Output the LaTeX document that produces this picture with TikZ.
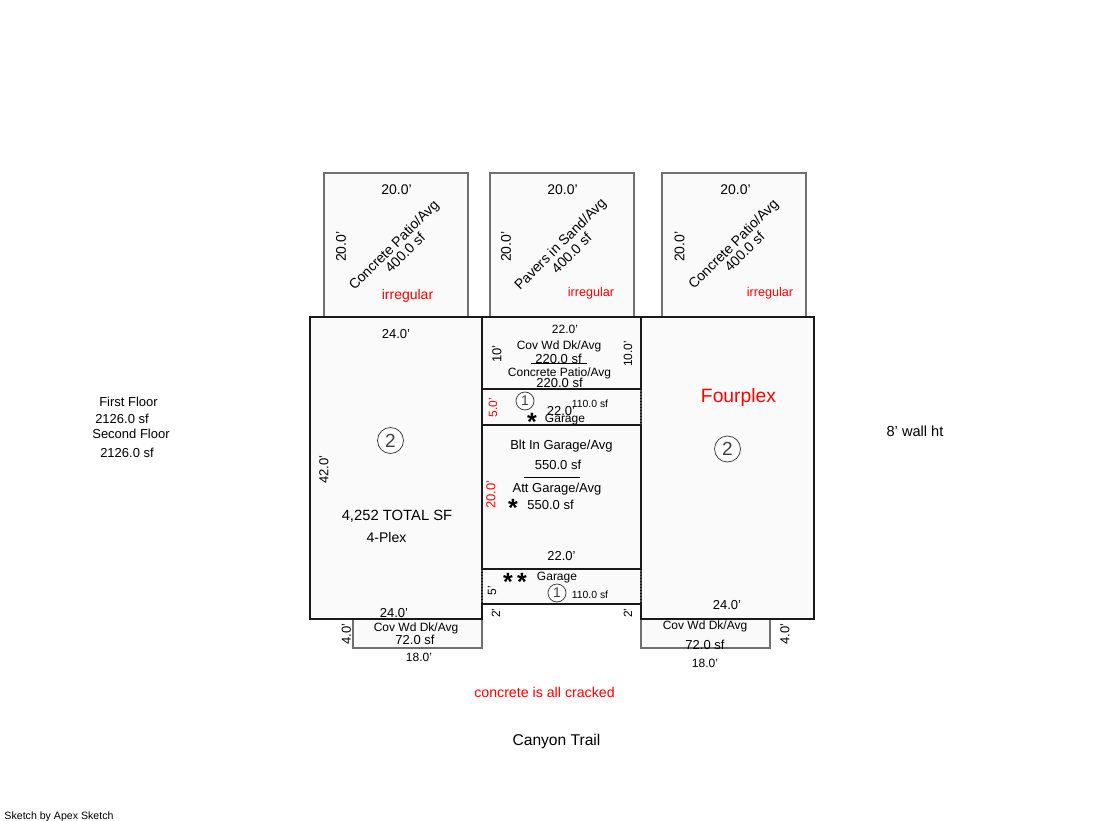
\documentclass[tikz,border=0pt]{standalone}
\usepackage{fontspec}
\setmainfont{Liberation Sans}
\definecolor{roomfill}{HTML}{FAFAFA}
\definecolor{edgegray}{HTML}{707070}
\begin{document}
\begin{tikzpicture}[
    x = 1pt,
    y = -1pt,
    wall/.style = {draw=black!90, line width=1.6pt, fill=roomfill},
    porch/.style = {draw=edgegray, line width=1.1pt, fill=roomfill},
    garage side/.style = {draw=black!70, line width=1.6pt, dash pattern=on 1.5pt off 1.5pt},
    label/.style = {inner sep=0pt, outer sep=0pt, yshift=-0.8pt, font=\fontsize{13}{13}\selectfont},
    small/.style = {label, font=\fontsize{12}{12}\selectfont},
    tiny/.style = {label, font=\fontsize{10.4}{10.4}\selectfont},
    big/.style = {label, font=\fontsize{14}{14}\selectfont},
    stamp/.style = {circle, draw=black!80, line width=0.7pt, fill=white, text=black!75,
              inner sep=0pt, outer sep=0pt},
    mark star/.style = {inner sep=0pt, outer sep=0pt, font=\bfseries\fontsize{25}{25}\selectfont},
    ]

\useasboundingbox (0,0) rectangle (1119,821);

% patios
\draw[porch] (324,173) rectangle (468,317);
\draw[porch] (490,173) rectangle (634,317);
\draw[porch] (662,173) rectangle (806,317);

% porches
\draw[porch] (353,619) rectangle (482,648);
\draw[porch] (641,619) rectangle (770,648);

% units
\draw[wall] (310,317) rectangle (482,619);
\draw[wall] (641,317) rectangle (814,619);
\draw[wall] (482,317) rectangle (641,389);
\draw[wall] (482,389) rectangle (641,425);
\draw[wall] (482,425) rectangle (641,569);
\draw[wall] (482,569) rectangle (641,604);
\draw[garage side] (641,390) -- (641,424);
\draw[garage side] (482,570) -- (482,603);
\draw[garage side] (641,570) -- (641,603);
\draw[black, line width=0.8pt] (531,363) -- (587,363);
\draw[black, line width=0.8pt] (524,477.5) -- (580,477.5);

% patio texts
\node[big] (patio_a_top) at (396.5,189) {20.0'};
\node[big, rotate=90] (patio_a_side) at (341,246) {20.0'};
\node[big, rotate=45] (patio_a_name) at (394.5,245) {Concrete Patio/Avg};
\node[big, rotate=45] (patio_a_area) at (405,252) {400.0 sf};
\node[big, text=red] (patio_a_note) at (407.5,295) {irregular};
\node[big] (patio_b_top) at (562.5,189) {20.0'};
\node[big, rotate=90] (patio_b_side) at (506,246) {20.0'};
\node[big, rotate=45] (patio_b_name) at (561,244) {Pavers in Sand/Avg};
\node[big, rotate=45] (patio_b_area) at (571.5,252.5) {400.0 sf};
\node[small, text=red, font=\fontsize{12.6}{12.6}\selectfont] (patio_b_note) at (591,292) {irregular};
\node[big] (patio_c_top) at (735.5,189) {20.0'};
\node[big, rotate=90] (patio_c_side) at (679.5,246) {20.0'};
\node[big, rotate=45] (patio_c_name) at (734,244) {Concrete Patio/Avg};
\node[big, rotate=45] (patio_c_area) at (744.5,251) {400.0 sf};
\node[small, text=red, font=\fontsize{12.6}{12.6}\selectfont] (patio_c_note) at (770,292) {irregular};

% left unit
\node[label] (left_top) at (396,333.5) {24.0'};
\node[stamp, minimum size=26pt, font=\fontsize{19}{19}\selectfont] (left_stamp) at (390.5,440.5) {2};
\node[label, rotate=90] (left_side) at (324,469) {42.0'};
\node[label, font=\fontsize{14.8}{14.8}\selectfont] (total_sf) at (397,515) {4,252 TOTAL SF};
\node[big] (plex) at (386.5,537) {4-Plex};
\node[label] (left_bottom) at (394,612) {24.0'};

% right unit
\node[label, text=red, font=\fontsize{19.3}{19.3}\selectfont] (fourplex) at (738.5,397) {Fourplex};
\node[stamp, minimum size=26pt, font=\fontsize{19}{19}\selectfont] (right_stamp) at (727.5,449) {2};
\node[label] (right_bottom) at (727,604.5) {24.0'};

% middle rooms
\node[small] (deck_top) at (565,328.5) {22.0'};
\node[label, rotate=90] (deck_left) at (497,353) {10'};
\node[small] (deck_name) at (559,346) {Cov Wd Dk/Avg};
\node[label] (deck_area) at (558.5,358) {220.0 sf};
\node[small] (concrete_name) at (559.5,373) {Concrete Patio/Avg};
\node[label] (concrete_area) at (559.5,382) {220.0 sf};
\node[small, rotate=90] (deck_right) at (628,353) {10.0'};

\node[small, text=red, rotate=90] (garage_a_side) at (493,407) {5.0'};
\node[stamp, minimum size=18pt, font=\fontsize{14}{14}\selectfont] (garage_a_stamp) at (525,401) {1};
\node[label] (garage_a_dim) at (561,410) {22.0'};
\node[tiny] (garage_a_area) at (590,402.5) {110.0 sf};
\node[mark star] (garage_a_star) at (532,421.5) {*};
\node[small] (garage_a_name) at (565,419) {Garage};

\node[label] (blt_name) at (561.5,445) {Blt In Garage/Avg};
\node[label] (blt_area) at (558,464.5) {550.0 sf};
\node[label] (att_name) at (557,488) {Att Garage/Avg};
\node[mark star] (att_star) at (513,508) {*};
\node[label] (att_area) at (550.5,504.5) {550.0 sf};
\node[label, text=red, rotate=90] (garage_side) at (491,494) {20.0'};
\node[label] (garage_dim) at (561.5,555.5) {22.0'};

\node[mark star] (garage_b_star_a) at (508,581.5) {*};
\node[mark star] (garage_b_star_b) at (522,581.5) {*};
\node[small] (garage_b_name) at (557,577) {Garage};
\node[small, rotate=90] (garage_b_side) at (492,590) {5'};
\node[stamp, minimum size=18pt, font=\fontsize{14}{14}\selectfont] (garage_b_stamp) at (557,593) {1};
\node[tiny] (garage_b_area) at (590,594) {110.0 sf};
\node[small, rotate=90] (step_left) at (496,612.5) {2'};
\node[small, rotate=90] (step_right) at (628,612.5) {2'};

% porch texts
\node[small] (porch_a_name) at (416,628) {Cov Wd Dk/Avg};
\node[label] (porch_a_area) at (415,639.5) {72.0 sf};
\node[label, rotate=90] (porch_a_side) at (346.5,633.5) {4.0'};
\node[small] (porch_a_dim) at (419,657) {18.0'};
\node[small] (porch_b_name) at (705,625.5) {Cov Wd Dk/Avg};
\node[label] (porch_b_area) at (705,644) {72.0 sf};
\node[label, rotate=90] (porch_b_side) at (785,633) {4.0'};
\node[small] (porch_b_dim) at (705,662.5) {18.0'};

% free texts
\node[label] (first_floor) at (128.5,401.5) {First Floor};
\node[label] (first_area) at (122,418.5) {2126.0 sf};
\node[label] (second_floor) at (131,433) {Second Floor};
\node[label] (second_area) at (127,452) {2126.0 sf};
\node[label, font=\fontsize{14.6}{14.6}\selectfont] (wall_ht) at (915,430) {8' wall ht};
\node[label, text=red, font=\fontsize{14.2}{14.2}\selectfont] (cracked) at (544.5,692) {concrete is all cracked};
\node[label, font=\fontsize{15.6}{15.6}\selectfont] (street) at (556.5,741) {Canyon Trail};
\node[label, font=\fontsize{10.6}{10.6}\selectfont] (credit) at (59,815.5) {Sketch by Apex Sketch};

\end{tikzpicture}
\end{document}
